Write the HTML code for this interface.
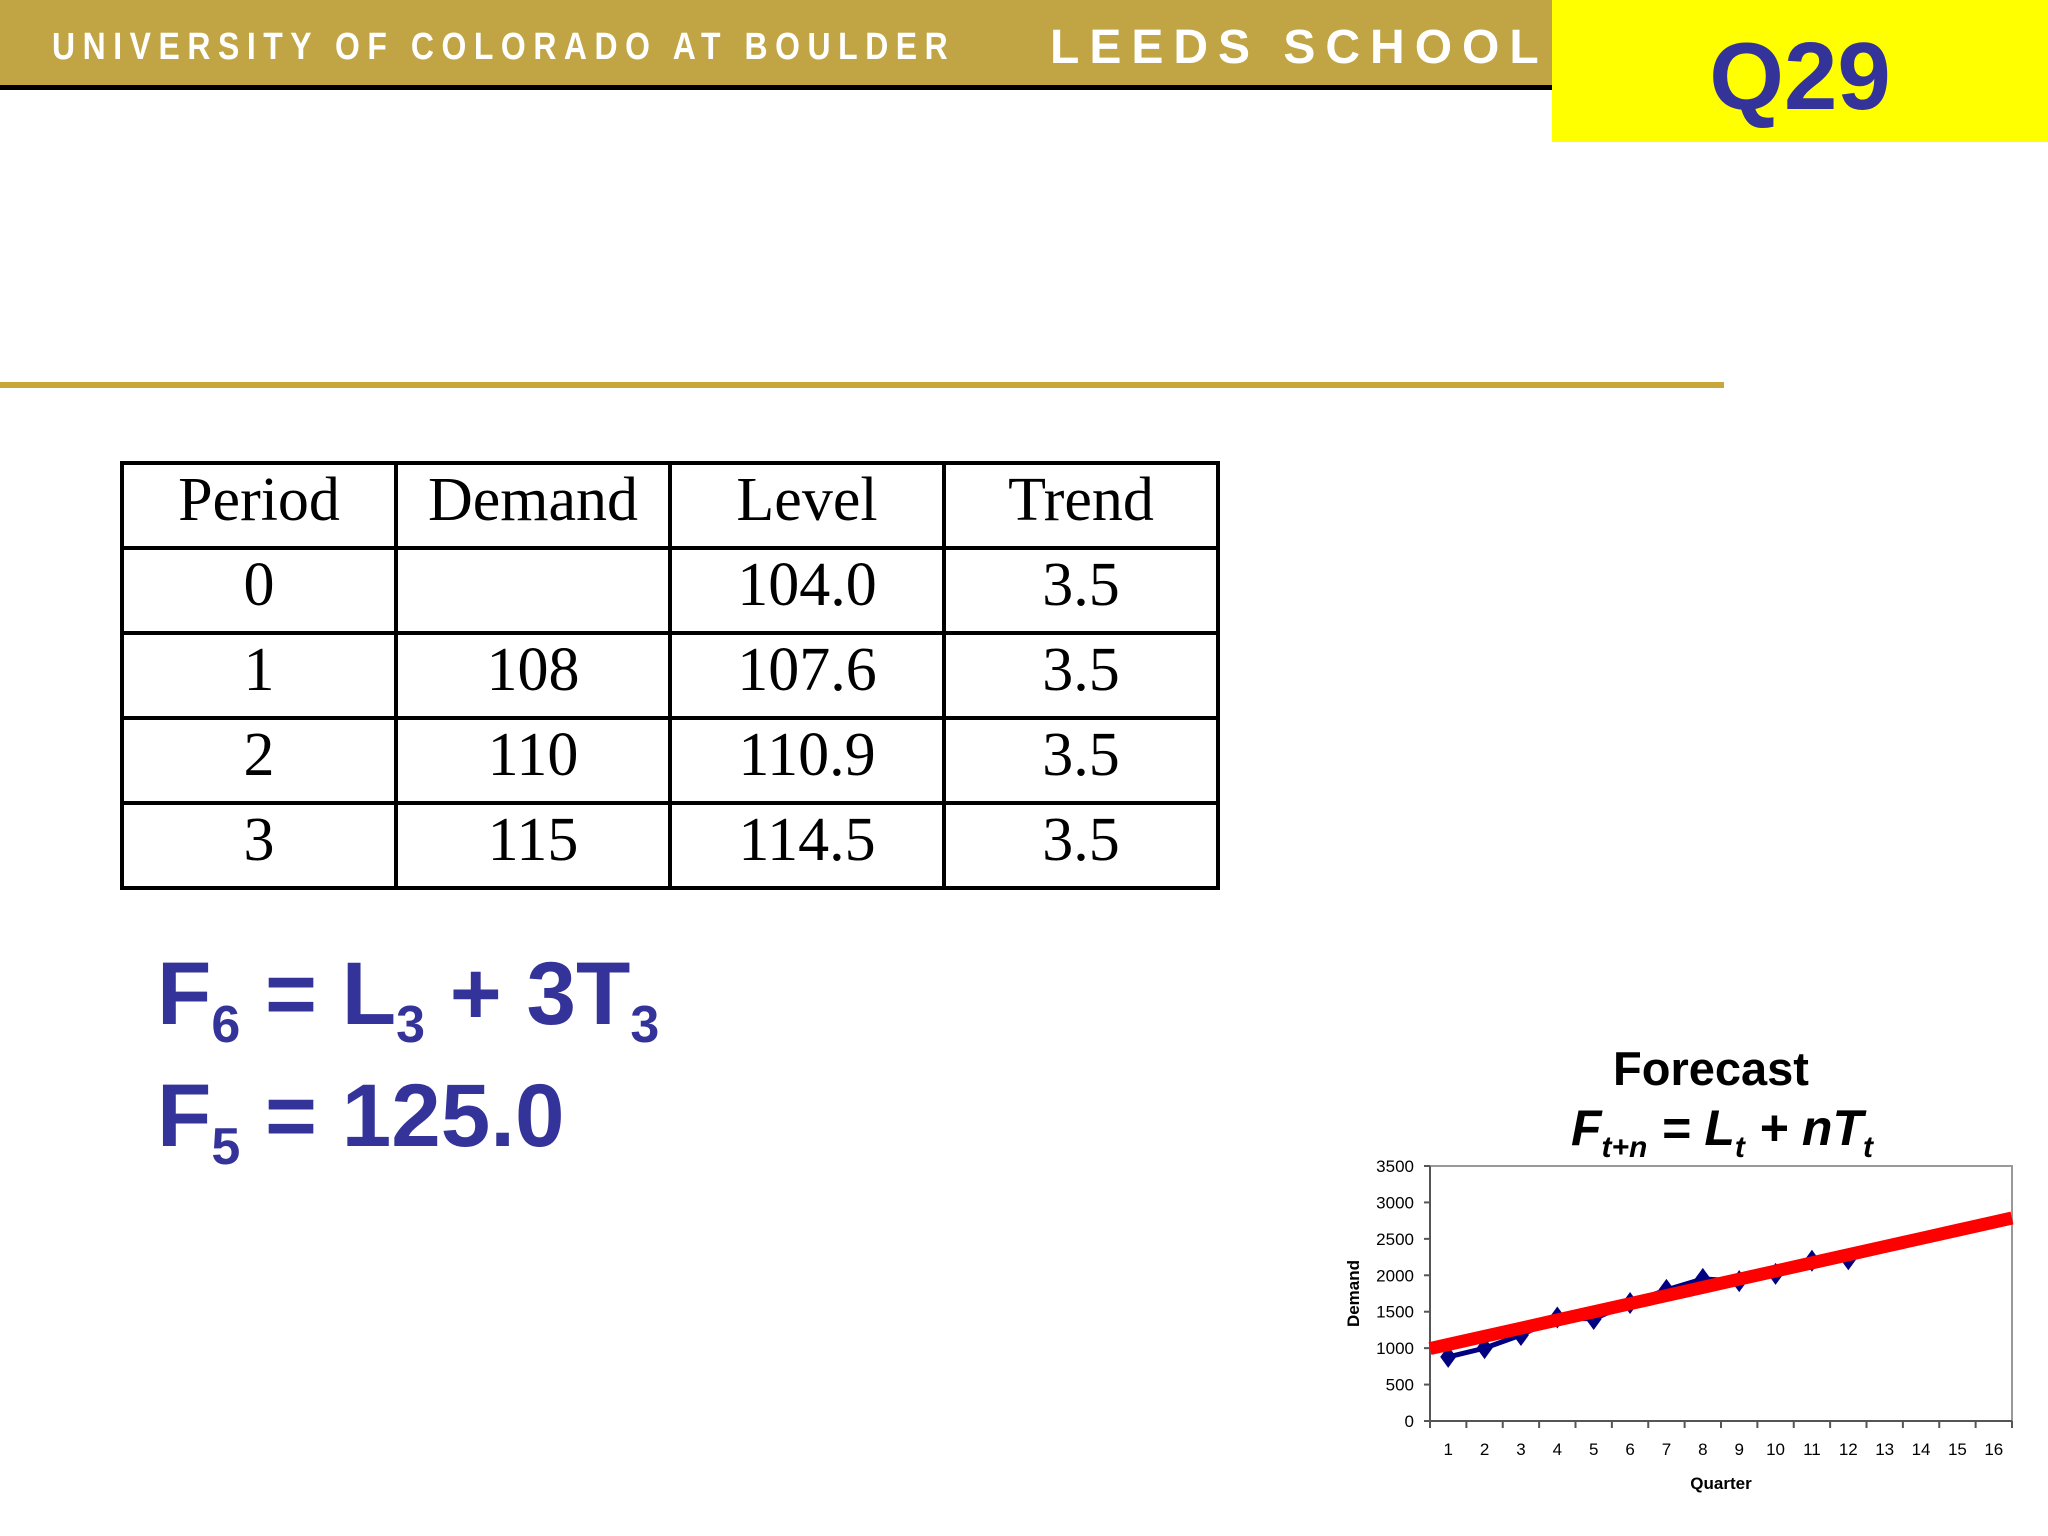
<!DOCTYPE html>
<html><head><meta charset="utf-8"><style>
body{margin:0;width:2048px;height:1536px;background:#fff;position:relative;overflow:hidden;font-family:"Liberation Sans",sans-serif}
.abs{position:absolute}
table{border-collapse:collapse;font-family:"Liberation Serif",serif;font-size:62px}
td{border:4px solid #000;text-align:center;padding:0;height:81px;width:270px;line-height:70px;vertical-align:top}
.f{font-weight:bold;color:#333399;font-size:89px;white-space:nowrap}
.f sub{font-size:52px;vertical-align:-0.35em}
</style></head><body>
<div class="abs" style="left:0;top:0;width:1552px;height:85px;background:#c1a444"></div>
<div class="abs" style="left:0;top:85px;width:1552px;height:5px;background:#000"></div>
<div class="abs" style="left:52px;top:26px;color:#fff;font-size:38px;font-weight:bold;letter-spacing:9px;transform:scaleX(0.84);transform-origin:left;white-space:nowrap">UNIVERSITY OF COLORADO AT BOULDER</div>
<div class="abs" style="left:1050px;top:20px;color:#fff;font-size:48px;font-weight:bold;letter-spacing:10px;white-space:nowrap">LEEDS SCHOOL</div>
<div class="abs" style="left:1552px;top:0;width:496px;height:142px;background:#ffff00"></div>
<div class="abs" style="left:1552px;width:496px;top:22px;text-align:center;color:#333399;font-size:96px;font-weight:bold;line-height:110px">Q29</div>
<div class="abs" style="left:0;top:382px;width:1724px;height:6px;background:#c8a63a"></div>

<table class="abs" style="left:120px;top:461px">
<tr><td>Period</td><td>Demand</td><td>Level</td><td>Trend</td></tr>
<tr><td>0</td><td></td><td>104.0</td><td>3.5</td></tr>
<tr><td>1</td><td>108</td><td>107.6</td><td>3.5</td></tr>
<tr><td>2</td><td>110</td><td>110.9</td><td>3.5</td></tr>
<tr><td>3</td><td>115</td><td>114.5</td><td>3.5</td></tr>
</table>

<div class="abs f" style="left:157px;top:942px">F<sub>6</sub> = L<sub>3</sub> + 3T<sub>3</sub></div>
<div class="abs f" style="left:157px;top:1064px">F<sub>5</sub> = 125.0</div>

<svg class="abs" style="left:0;top:0" width="2048" height="1536">
<text x="1711" y="1085" text-anchor="middle" font-size="47" font-weight="bold" font-family="Liberation Sans">Forecast</text>
<text x="1722" y="1145" text-anchor="middle" font-size="50" font-weight="bold" font-style="italic" font-family="Liberation Sans">F<tspan font-size="30" dy="12">t+n</tspan><tspan dy="-12"> = L</tspan><tspan font-size="30" dy="12">t</tspan><tspan dy="-12"> + nT</tspan><tspan font-size="30" dy="12">t</tspan></text>
<g id="plot"></g>
</svg>
<script>
const categories=[1,2,3,4,5,6,7,8,9,10,11,12,13,14,15,16];
const demand=[880,1000,1180,1420,1400,1620,1800,1950,1920,2020,2200,2220];
const forecast=[1050,1162,1274,1386,1498,1610,1722,1834,1946,2058,2170,2282,2394,2506,2618,2730];
const yTicks=[0,500,1000,1500,2000,2500,3000,3500];
const L=1430,R=2012,T=1166,B=1421,yMax=3500;
const n=categories.length,bw=(R-L)/n;
const xs=i=>L+bw*(i+0.5);
const ys=v=>B-(v/yMax)*(B-T);
const g=document.getElementById('plot');
const NS='http://www.w3.org/2000/svg';
function mk(t,a){const e=document.createElementNS(NS,t);for(const k in a)e.setAttribute(k,a[k]);g.appendChild(e);return e;}
let e=mk('rect',{x:L,y:T,width:R-L,height:B-T,fill:'none',stroke:'#999','stroke-width':2});


e=mk('line',{x1:L,y1:T,x2:L,y2:B,stroke:'#555','stroke-width':2});


e=mk('line',{x1:L,y1:B,x2:R,y2:B,stroke:'#555','stroke-width':2});


yTicks.forEach(v=>{
 mk('line',{x1:L-6,y1:ys(v),x2:L,y2:ys(v),stroke:'#555','stroke-width':2});
 const t=mk('text',{x:L-16,y:ys(v)+6,'text-anchor':'end','font-size':17,'font-family':'Liberation Sans'});
 t.textContent=v;
 
 
});
for(let i=0;i<=n;i++)mk('line',{x1:L+bw*i,y1:B,x2:L+bw*i,y2:B+7,stroke:'#555','stroke-width':2});
categories.forEach((c,i)=>{
 const t=mk('text',{x:xs(i),y:B+34,'text-anchor':'middle','font-size':17,'font-family':'Liberation Sans'});
 t.textContent=c;
 
 
});
let t=mk('text',{x:(L+R)/2,y:B+68,'text-anchor':'middle','font-size':17,'font-weight':'bold','font-family':'Liberation Sans'});
t.textContent='Quarter';


t=mk('text',{x:1359,y:(T+B)/2,'text-anchor':'middle','font-size':17,'font-weight':'bold','font-family':'Liberation Sans',transform:`rotate(-90 1359 ${(T+B)/2})`});
t.textContent='Demand';


e=mk('polyline',{points:demand.map((v,i)=>xs(i)+','+ys(v)).join(' '),fill:'none',stroke:'#000080','stroke-width':5});


demand.forEach((v,i)=>{
 const x=xs(i),y=ys(v);
 const d=mk('polygon',{points:`${x},${y-11} ${x+8},${y} ${x},${y+11} ${x-8},${y}`,fill:'#000080'});
 
 
});
const s0=forecast[1]-forecast[0],s1=forecast[n-1]-forecast[n-2];
const pts=[L+','+ys(forecast[0]-s0/2)].concat(forecast.map((v,i)=>xs(i)+','+ys(v))).concat([R+','+ys(forecast[n-1]+s1/2)]);
e=mk('polyline',{points:pts.join(' '),fill:'none',stroke:'#ff0000','stroke-width':13});


</script>
</body></html>
